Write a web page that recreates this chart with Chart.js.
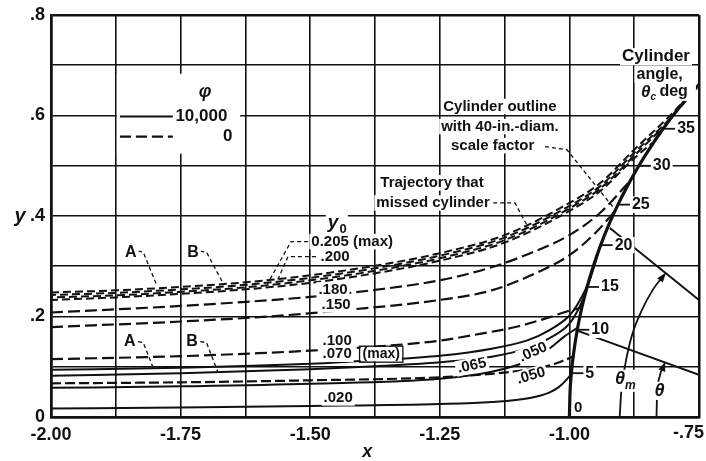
<!DOCTYPE html>
<html>
<head>
<meta charset="utf-8">
<script src="https://cdn.jsdelivr.net/npm/chart.js@4.4.1/dist/chart.umd.min.js"></script>
<style>
  html, body { margin: 0; padding: 0; background: #fff; }
  #wrap { width: 706px; height: 461px; }
</style>
</head>
<body>
<div id="wrap"><canvas id="myChart"></canvas></div>
<script>
// tick labels
const xTickVals = [-2, -1.75, -1.5, -1.25, -1, -0.75];
const xTickText = ['-2.00', '-1.75', '-1.50', '-1.25', '-1.00', '-.75'];
const yTickVals = [0, 0.2, 0.4, 0.6, 0.8];
const yTickText = ['0', '.2', '.4', '.6', '.8'];

// upper bundle of trajectories (y0 = 0.205 max, .200, A, B)
const traj205 = [[-2,0.248],[-1.875,0.252],[-1.75,0.259],[-1.625,0.268],[-1.5,0.282],[-1.375,0.301],[-1.25,0.326],[-1.125,0.362],[-1.0,0.426],[-0.94,0.466],[-0.875,0.532],[-0.8,0.606],[-0.75,0.662]];
const traj200 = [[-2,0.243],[-1.875,0.247],[-1.75,0.254],[-1.625,0.263],[-1.5,0.277],[-1.375,0.296],[-1.25,0.321],[-1.125,0.357],[-1.0,0.420],[-0.94,0.460],[-0.875,0.526],[-0.8,0.600],[-0.77,0.636]];
const trajA = [[-2,0.238],[-1.875,0.242],[-1.75,0.249],[-1.625,0.258],[-1.5,0.272],[-1.375,0.291],[-1.25,0.316],[-1.125,0.352],[-1.0,0.415],[-0.94,0.455],[-0.875,0.520],[-0.82,0.576]];
const trajB = [[-2,0.233],[-1.875,0.238],[-1.75,0.245],[-1.625,0.254],[-1.5,0.267],[-1.375,0.286],[-1.25,0.311],[-1.125,0.347],[-1.0,0.410],[-0.94,0.450],[-0.875,0.515],[-0.84,0.545]];

// phi = 0 (dashed)
const traj180 = [[-2,0.208],[-1.75,0.221],[-1.5,0.239],[-1.375,0.253],[-1.25,0.272],[-1.15,0.298],[-1.095,0.318],[-1.0,0.362],[-0.94,0.407],[-0.883,0.470]];
const traj150 = [[-2,0.179],[-1.75,0.190],[-1.58,0.200],[-1.43,0.213],[-1.25,0.233],[-1.15,0.252],[-1.057,0.290],[-1.0,0.322],[-0.95,0.366],[-0.912,0.410]];
const traj100 = [[-2,0.115],[-1.75,0.121],[-1.6,0.127],[-1.5,0.132],[-1.375,0.140],[-1.25,0.152],[-1.17,0.166],[-1.1,0.180],[-1.043,0.197],[-1.005,0.210],[-0.976,0.218]];
const traj050d = [[-2,0.067],[-1.75,0.069],[-1.5,0.073],[-1.25,0.079],[-1.15,0.086],[-1.076,0.095],[-1.03,0.105],[-1.005,0.115],[-0.993,0.120]];

// phi = 10,000 (solid)
const traj070 = [[-2,0.094],[-1.75,0.098],[-1.5,0.106],[-1.375,0.113],[-1.25,0.122],[-1.15,0.136],[-1.08,0.153],[-1.04,0.172],[-1.0,0.202],[-0.98,0.232],[-0.96,0.275],[-0.94,0.342]];
const traj065 = [[-2,0.082],[-1.75,0.087],[-1.5,0.095],[-1.375,0.101],[-1.25,0.109],[-1.15,0.120],[-1.08,0.137],[-1.04,0.156],[-1.0,0.186],[-0.98,0.220],[-0.966,0.256],[-0.956,0.292]];
const traj050s = [[-2,0.058],[-1.75,0.061],[-1.5,0.066],[-1.25,0.076],[-1.15,0.090],[-1.076,0.113],[-1.04,0.135],[-1.01,0.160],[-0.984,0.178]];
const traj020 = [[-2,0.017],[-1.75,0.019],[-1.5,0.022],[-1.25,0.026],[-1.15,0.030],[-1.076,0.038],[-1.04,0.048],[-1.02,0.060],[-1.005,0.075],[-0.997,0.085]];

// cylinder outline and angle construction
const cylinder = [[-1,0],[-0.999,0.0436],[-0.9962,0.0872],[-0.9914,0.1305],[-0.9848,0.1736],[-0.9763,0.2164],[-0.9659,0.2588],[-0.9537,0.3007],[-0.9397,0.342],[-0.9239,0.3827],[-0.9063,0.4226],[-0.887,0.4617],[-0.866,0.5],[-0.8434,0.5373],[-0.8192,0.5736],[-0.7934,0.6088],[-0.766,0.6428],[-0.75,0.6614]];
const cylTickPts = [[-0.9962,0.0872],[-0.9848,0.1736],[-0.9659,0.2588],[-0.9397,0.342],[-0.9063,0.4226],[-0.866,0.5],[-0.8192,0.5736]];
const cylTickText = ['5', '10', '15', '20', '25', '30', '35'];
const angleLineHi = [[-0.922,0.376],[-0.75,0.233]];
const angleLineLo = [[-0.985,0.172],[-0.75,0.084]];
const arcThetaM = [[-0.903,0],[-0.9,0.05],[-0.893,0.1],[-0.88,0.16],[-0.86,0.213],[-0.838,0.255],[-0.817,0.283]];
const arcTheta = [[-0.832,0],[-0.831,0.04],[-0.826,0.08],[-0.817,0.105]];

// leader lines
const leaders = [
  [[-1.504,0.349],[-1.537,0.349],[-1.583,0.264]],
  [[-1.489,0.319],[-1.543,0.319],[-1.564,0.270]],
  [[-1.832,0.330],[-1.822,0.328],[-1.796,0.262]],
  [[-1.712,0.330],[-1.700,0.328],[-1.668,0.266]],
  [[-1.832,0.150],[-1.822,0.148],[-1.803,0.098]],
  [[-1.712,0.150],[-1.700,0.148],[-1.678,0.089]],
  [[-1.147,0.426],[-1.105,0.426],[-1.082,0.382]],
  [[-1.047,0.538],[-1.005,0.532],[-0.916,0.418]]
];

// text notes (data coordinates)
const notes = [
  ['Cylinder', -0.833, 0.717, 17], ['angle,', -0.826, 0.681, 16],
  ['Cylinder outline', -1.134, 0.618, 15], ['with 40-in.-diam.', -1.134, 0.578, 15], ['scale factor', -1.148, 0.540, 15],
  ['Trajectory that', -1.265, 0.466, 15], ['missed cylinder', -1.263, 0.426, 15],
  ['0.205 (max)', -1.419, 0.349, 15], ['.200', -1.452, 0.319, 15], ['.180', -1.456, 0.253, 15], ['.150', -1.450, 0.223, 15],
  ['.100', -1.448, 0.151, 15], ['.070', -1.448, 0.125, 15], ['(max)', -1.363, 0.125, 14],
  ['.020', -1.446, 0.038, 15],
  ['A', -1.846, 0.327, 16], ['B', -1.726, 0.327, 16], ['A', -1.848, 0.150, 16], ['B', -1.728, 0.150, 16],
  ['0', -0.983, 0.018, 15]
];
const rotNotes = [['.065', -1.188, 0.102, -12], ['.050', -1.070, 0.129, -24], ['.050', -1.074, 0.082, -16]];
const legendLabels = ['10,000', '0'];

const FONT = '"Liberation Sans", Arial, sans-serif';

function curve(pts, dash, w, extra) {
  return Object.assign({
    data: pts.map(p => ({ x: p[0], y: p[1] })),
    showLine: true, borderColor: '#111', borderWidth: w, borderDash: dash,
    pointRadius: 0, fill: false, cubicInterpolationMode: 'monotone'
  }, extra || {});
}

const datasets = [
  curve(traj205, [8, 4], 2, { borderDashOffset: 0 }),
  curve(traj200, [8, 4], 2, { borderDashOffset: 3 }),
  curve(trajA, [8, 4], 2, { borderDashOffset: 6 }),
  curve(trajB, [8, 4], 2, { borderDashOffset: 1 }),
  curve(traj180, [12, 5], 2.2),
  curve(traj150, [12, 5], 2.2),
  curve(traj100, [12, 5], 2.2),
  curve(traj050d, [10, 4], 2.2),
  curve(traj070, [], 2),
  curve(traj065, [], 2),
  curve(traj050s, [], 2),
  curve(traj020, [], 2),
  curve(cylinder, [], 3.2),
  curve(angleLineHi, [], 2, { cubicInterpolationMode: 'default', tension: 0 }),
  curve(angleLineLo, [], 2, { cubicInterpolationMode: 'default', tension: 0 }),
  curve(arcThetaM, [], 1.8),
  curve(arcTheta, [], 1.8)
];
leaders.forEach(l => datasets.push(curve(l, [4, 3], 1.3, { cubicInterpolationMode: 'default', tension: 0 })));

function txt(ctx, s, x, y, size, opt) {
  opt = opt || {};
  ctx.save();
  ctx.font = (opt.italic ? 'italic ' : '') + 'bold ' + size + 'px ' + FONT;
  ctx.translate(x, y);
  if (opt.rot) ctx.rotate(opt.rot * Math.PI / 180);
  ctx.textAlign = opt.align || 'center';
  ctx.textBaseline = 'middle';
  const w = ctx.measureText(s).width;
  if (opt.bg !== false) {
    const lx = ctx.textAlign === 'center' ? -w / 2 : (ctx.textAlign === 'right' ? -w : 0);
    ctx.fillStyle = '#fff';
    ctx.fillRect(lx - 2, -size * 0.45 - 1, w + 4, size * 0.9 + 2);
  }
  ctx.fillStyle = '#111';
  ctx.fillText(s, 0, 0);
  ctx.restore();
  return w;
}

const overlay = {
  id: 'overlay',
  afterDatasetsDraw(chart) {
    const ctx = chart.ctx, sx = chart.scales.x, sy = chart.scales.y;
    const px = v => sx.getPixelForValue(v), py = v => sy.getPixelForValue(v);
    ctx.save();
    ctx.strokeStyle = '#111';
    ctx.lineCap = 'butt';

    // legend box
    ctx.fillStyle = '#fff';
    ctx.fillRect(px(-1.873), py(0.683), px(-1.635) - px(-1.873), py(0.524) - py(0.683));
    txt(ctx, 'φ', px(-1.703), py(0.647), 18, { italic: true, bg: false });
    ctx.lineWidth = 2.2;
    ctx.setLineDash([]);
    ctx.beginPath(); ctx.moveTo(px(-1.867), py(0.598)); ctx.lineTo(px(-1.765), py(0.598)); ctx.stroke();
    ctx.setLineDash([11, 5]);
    ctx.beginPath(); ctx.moveTo(px(-1.867), py(0.558)); ctx.lineTo(px(-1.765), py(0.558)); ctx.stroke();
    ctx.setLineDash([]);
    txt(ctx, legendLabels[0], px(-1.760), py(0.598), 17, { align: 'left', bg: false });
    txt(ctx, legendLabels[1], px(-1.659), py(0.558), 17, { bg: false });

    // cylinder angle ticks and labels
    ctx.lineWidth = 1.8;
    cylTickPts.forEach((p, i) => {
      const x0 = px(p[0]), y0 = py(p[1]);
      ctx.beginPath(); ctx.moveTo(x0 + 1, y0); ctx.lineTo(x0 + 13, y0); ctx.stroke();
      txt(ctx, cylTickText[i], x0 + 14, y0, 16, { align: 'left' });
    });

    // arrowheads on the angle arcs
    [arcThetaM, arcTheta].forEach(a => {
      const n = a.length, x1 = px(a[n - 1][0]), y1 = py(a[n - 1][1]);
      const ang = Math.atan2(y1 - py(a[n - 2][1]), x1 - px(a[n - 2][0]));
      ctx.fillStyle = '#111';
      ctx.beginPath();
      ctx.moveTo(x1 + 3 * Math.cos(ang), y1 + 3 * Math.sin(ang));
      ctx.lineTo(x1 - 7 * Math.cos(ang) + 3.5 * Math.sin(ang), y1 - 7 * Math.sin(ang) - 3.5 * Math.cos(ang));
      ctx.lineTo(x1 - 7 * Math.cos(ang) - 3.5 * Math.sin(ang), y1 - 7 * Math.sin(ang) + 3.5 * Math.cos(ang));
      ctx.closePath(); ctx.fill();
    });

    // text notes
    notes.forEach(n => txt(ctx, n[0], px(n[1]), py(n[2]), n[3]));
    rotNotes.forEach(n => txt(ctx, n[0], px(n[1]), py(n[2]), 15, { rot: n[3] }));

    // box round "(max)"
    ctx.lineWidth = 1.3;
    ctx.font = 'bold 14px ' + FONT;
    const mw = ctx.measureText('(max)').width;
    ctx.strokeRect(px(-1.363) - mw / 2 - 3, py(0.125) - 8, mw + 6, 16);

    // theta_c deg
    let x0 = px(-0.862), y0 = py(0.647);
    ctx.fillStyle = '#fff'; ctx.fillRect(x0 - 3, y0 - 8, 58, 17);
    let w = txt(ctx, 'θ', x0, y0, 17, { italic: true, align: 'left', bg: false });
    txt(ctx, 'c', x0 + w, y0 + 5, 10, { italic: true, align: 'left', bg: false });
    txt(ctx, 'deg', x0 + w + 9, y0, 16, { align: 'left', bg: false });

    // y0 label
    x0 = px(-1.466); y0 = py(0.386);
    ctx.fillStyle = '#fff'; ctx.fillRect(x0 - 2, y0 - 9, 22, 20);
    w = txt(ctx, 'y', x0, y0, 19, { italic: true, align: 'left', bg: false });
    txt(ctx, '0', x0 + w + 1, y0 + 6, 13, { align: 'left', bg: false });

    // theta_m and theta
    x0 = px(-0.912); y0 = py(0.076);
    ctx.fillStyle = '#fff'; ctx.fillRect(x0 - 2, y0 - 9, 22, 22);
    w = txt(ctx, 'θ', x0, y0, 18, { italic: true, align: 'left', bg: false });
    txt(ctx, 'm', x0 + w, y0 + 7, 12, { italic: true, align: 'left', bg: false });
    txt(ctx, 'θ', px(-0.826), py(0.052), 18, { italic: true });

    // last x tick label kept inside the canvas, as in the print
    txt(ctx, xTickText[xTickText.length - 1], chart.width - 2, sy.bottom + 7 + 9, 18, { align: 'right', bg: false });

    // axis titles
    txt(ctx, 'y', 20, py(0.4), 20, { italic: true, bg: false });
    txt(ctx, 'x', px(-1.39), 452, 18, { italic: true, bg: false });
    ctx.restore();
  }
};

function tickLabel(vals, texts, skipLast) {
  return v => {
    const i = vals.findIndex(t => Math.abs(t - v) < 1e-6);
    if (i < 0 || (skipLast && i === vals.length - 1)) return '';
    return texts[i];
  };
}

new Chart(document.getElementById('myChart'), {
  type: 'scatter',
  data: { datasets: datasets },
  options: {
    responsive: true, maintainAspectRatio: false, animation: false,
    layout: { padding: { top: 15, right: 7, left: 0, bottom: 0 } },
    plugins: { legend: { display: false }, tooltip: { enabled: false } },
    scales: {
      x: {
        type: 'linear', min: -2, max: -0.75,
        afterFit: s => { s.height = 44; s.paddingLeft = 0; s.paddingRight = 0; },
        grid: { color: '#111', lineWidth: c => (c.index === 0 || c.index === 10) ? 2.5 : 1.6, drawTicks: false },
        border: { color: '#111', width: 2.5 },
        ticks: { stepSize: 0.125, autoSkip: false, maxRotation: 0, padding: 7, color: '#111',
          font: { family: FONT, size: 18, weight: 'bold' }, callback: tickLabel(xTickVals, xTickText, true) }
      },
      y: {
        type: 'linear', min: 0, max: 0.8,
        afterFit: s => { s.width = 51; s.paddingTop = 0; s.paddingBottom = 0; },
        grid: { color: '#111', lineWidth: c => (c.index === 0 || c.index === 8) ? 2.5 : 1.6, drawTicks: false },
        border: { color: '#111', width: 2.5 },
        ticks: { stepSize: 0.1, autoSkip: false, padding: 6, color: '#111',
          font: { family: FONT, size: 18, weight: 'bold' }, callback: tickLabel(yTickVals, yTickText, false) }
      }
    }
  },
  plugins: [overlay]
});
</script>
</body>
</html>
